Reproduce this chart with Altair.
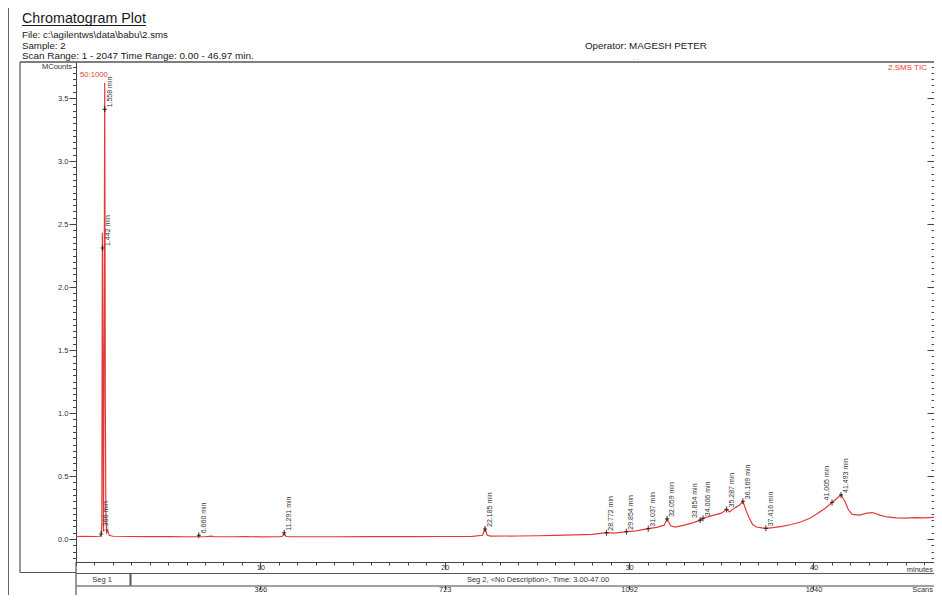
import altair as alt
import pandas as pd

# ---------------- data ----------------
time_min = [0.0, 0.5, 1.0, 1.30, 1.366, 1.40, 1.43, 1.46, 1.49, 1.53,
            1.558, 1.59, 1.62, 1.66, 1.72, 1.80, 2.0, 3.0, 4.0, 5.0,
            6.0, 6.60, 6.66, 6.72, 7.0, 7.35, 7.5, 8.5, 9.2, 10.0,
            11.0, 11.2, 11.291, 11.38, 11.6, 12.5, 14.0, 16.0, 18.0, 20.0,
            21.5, 22.05, 22.185, 22.3, 22.5, 24.0, 25.0, 26.0, 27.0, 28.0,
            28.772, 29.2, 29.854, 30.4, 31.037, 31.5, 31.9, 32.059, 32.25, 32.5,
            33.0, 33.5, 33.854, 34.006, 34.5, 35.0, 35.287, 35.45, 35.7, 36.0,
            36.169, 36.35, 36.5, 36.7, 36.9, 37.2, 37.416, 37.8, 38.3, 38.8,
            39.3, 39.8, 40.2, 40.6, 41.005, 41.25, 41.493, 41.7, 41.9, 42.1,
            42.5, 42.9, 43.2, 43.6, 44.0, 44.5, 45.0, 45.5, 46.0, 46.5, 46.97]
mcounts = [0.020, 0.021, 0.020, 0.022, 0.035, 0.12, 2.43, 1.20, 0.06, 1.90,
           3.62, 1.10, 0.20, 0.05, 0.065, 0.030, 0.022, 0.020, 0.019, 0.019,
           0.018, 0.019, 0.032, 0.019, 0.018, 0.023, 0.018, 0.018, 0.020, 0.017,
           0.018, 0.022, 0.050, 0.022, 0.018, 0.018, 0.018, 0.019, 0.019, 0.020,
           0.021, 0.030, 0.085, 0.030, 0.023, 0.024, 0.026, 0.029, 0.033, 0.037,
           0.050, 0.046, 0.058, 0.064, 0.082, 0.092, 0.110, 0.160, 0.105, 0.095,
           0.110, 0.130, 0.150, 0.165, 0.185, 0.205, 0.235, 0.215, 0.245, 0.270,
           0.300, 0.225, 0.170, 0.115, 0.095, 0.088, 0.085, 0.090, 0.100, 0.115,
           0.135, 0.165, 0.200, 0.240, 0.290, 0.320, 0.350, 0.300, 0.230, 0.195,
           0.190, 0.205, 0.210, 0.190, 0.175, 0.168, 0.165, 0.170, 0.168, 0.172, 0.170]

peak_time = [1.366, 1.442, 1.558, 6.660, 11.291, 22.185, 28.772, 29.854, 31.037,
             32.059, 33.854, 34.006, 35.287, 36.169, 37.416, 41.005, 41.493]
peak_mcounts = [0.040, 2.31, 3.41, 0.030, 0.050, 0.080, 0.050, 0.058, 0.082,
                0.160, 0.150, 0.165, 0.235, 0.300, 0.085, 0.290, 0.350]
left_labelled_peaks = [33.854, 41.005]

y_major = [0.0, 0.5, 1.0, 1.5, 2.0, 2.5, 3.0, 3.5]
y_minor = [round(-0.15 + 0.05 * i, 2) for i in range(79)]
x_major = [10, 20, 30, 40]
x_minor = list(range(0, 47))
scan_at_minutes = [10, 20, 30, 40]
scan_labels = ["366", "723", "1092", "1640"]

# ---------------- styling / layout ----------------
FONT = "Liberation Sans"
RED = "#e23b36"
INK = "#333333"
LINE = "#555555"
PX_PER_MIN = 866 / 46.97          # scale of the reference
W, H = 858, 500                   # plot area (page must not overflow 942 px)
X_END = W / PX_PER_MIN

trace = pd.DataFrame({"t": time_min, "v": mcounts})
peaks = pd.DataFrame({"t": peak_time, "v": peak_mcounts})

xs = alt.Scale(domain=[0, X_END], nice=False, zero=False)
ys = alt.Scale(domain=[-0.1825, 3.786], nice=False, zero=False)

common = dict(grid=False, title=None, tickColor="#444", domainColor="#444",
              labelFont=FONT, labelColor=INK, labelFontSize=7.5)

x_major_axis = alt.Axis(orient="bottom", values=x_major, tickSize=7, labelPadding=-6,
                        format="d", labelFlush=False, **common)
x_minor_axis = alt.Axis(orient="bottom", values=x_minor, tickSize=3, labels=False,
                        domain=False, **common)
y_major_axis = alt.Axis(orient="left", values=y_major, tickSize=7, labelPadding=1,
                        format=".1f", **common)
y_minor_axis = alt.Axis(orient="left", values=y_minor, tickSize=3.5, labels=False,
                        domain=False, **common)
y_right_minor = alt.Axis(orient="right", values=y_minor, tickSize=3, offset=-3,
                         labels=False, domain=False, **common)
y_right_major = alt.Axis(orient="right", values=y_major, tickSize=7, offset=-7,
                         labels=False, domain=False, **common)
scan_expr = " : ".join(f"datum.value == {m} ? '{s}'" for m, s in zip(scan_at_minutes, scan_labels)) + " : ''"
scans_axis = alt.Axis(orient="bottom", offset=23.5, values=scan_at_minutes, labelExpr=scan_expr,
                      tickSize=4, labelPadding=-4.5, labelFlush=False, **common)

line = alt.Chart(trace).mark_line(color=RED, strokeWidth=1.2, clip=True).encode(
    x=alt.X("t:Q", scale=xs, axis=x_major_axis),
    y=alt.Y("v:Q", scale=ys, axis=y_major_axis),
)


def dummy(xaxis, yaxis):
    return alt.Chart(peaks).mark_point(opacity=0).encode(
        x=alt.X("t:Q", scale=xs, axis=xaxis),
        y=alt.Y("v:Q", scale=ys, axis=yaxis),
    )


minor_layer = dummy(x_minor_axis, y_minor_axis)
right_minor_layer = dummy(None, y_right_minor)
right_major_layer = dummy(scans_axis, y_right_major)

markers = alt.Chart(peaks).mark_point(
    shape="M-0.7,0H0.7M0,-1V1", size=36, filled=False, stroke="black", strokeWidth=1.1
).encode(
    x=alt.X("t:Q", scale=xs, axis=None),
    y=alt.Y("v:Q", scale=ys, axis=None),
)

label_base = alt.Chart(peaks).transform_calculate(
    label="format(datum.t, '.3f') + ' min'"
)
labels_right = label_base.transform_filter(
    ~alt.FieldOneOfPredicate(field="t", oneOf=left_labelled_peaks)
).mark_text(angle=270, align="left", baseline="top", dx=2, dy=1,
            fontSize=7, font=FONT, color=INK).encode(
    x=alt.X("t:Q", scale=xs, axis=None),
    y=alt.Y("v:Q", scale=ys, axis=None),
    text="label:N",
)
labels_left = label_base.transform_filter(
    alt.FieldOneOfPredicate(field="t", oneOf=left_labelled_peaks)
).mark_text(angle=270, align="left", baseline="bottom", dx=2, dy=-2,
            fontSize=7, font=FONT, color=INK).encode(
    x=alt.X("t:Q", scale=xs, axis=None),
    y=alt.Y("v:Q", scale=ys, axis=None),
    text="label:N",
)


def txt(s, x, y, size, color="#1a1a1a", align="left", baseline="alphabetic"):
    return alt.Chart().mark_text(text=s, align=align, baseline=baseline, fontSize=size,
                                 font=FONT, color=color).encode(
        x=alt.value(x), y=alt.value(y))


def rule(x1, x2, y1, y2, color=LINE, width=1.2):
    return alt.Chart().mark_rule(color=color, strokeWidth=width).encode(
        x=alt.value(x1), x2=alt.value(x2), y=alt.value(y1), y2=alt.value(y2))


decor = [
    # header
    txt("Chromatogram Plot", -54, -39, 14.3),
    rule(-54, 70, -36.5, -36.5, color="#1a1a1a", width=1),
    txt(r"File: c:\agilentws\data\babu\2.sms", -54, -24, 9.7),
    txt("Sample: 2", -54, -13.5, 9.7),
    txt("Scan Range: 1 - 2047 Time Range: 0.00 - 46.97 min.", -54, -3, 9.9),
    txt("Operator: MAGESH PETER", 509, -13, 9.8),
    txt("- -", 560, -1, 6, color="#aaaaaa", align="center"),
    # inside plot texts
    txt("MCounts", -4, 5, 7.5, color=INK, align="right", baseline="middle"),
    txt("50:1000", 4, 13, 7.7, color=RED, baseline="middle"),
    txt("2.SMS TIC", 851, 6, 8, color=RED, align="right", baseline="middle"),
    # frame
    rule(-56, W, 0, 0, width=1.6),
    rule(-56, -56, 0, 510.5),
    rule(-56, 0, 510.5, 510.5),
    rule(-67.5, -67.5, -60, 533, color="#666666", width=1),
    # segment box
    rule(0, W, 511.5, 511.5),
    rule(0, 0, 500, 533),
    rule(54.5, 54.5, 511.5, 523.5, color="#555555", width=2),
    txt("Seg 1", 26, 517.8, 7.5, color=INK, align="center", baseline="middle"),
    txt("Seg 2, <No Description>, Time: 3.00-47.00", 462, 517.8, 7.5, color=INK,
        align="center", baseline="middle"),
    txt("minutes", W - 1, 509.5, 7.5, color=INK, align="right"),
    txt("Scans", W - 1, 527.5, 7.5, color=INK, align="right", baseline="middle"),
]

chart = alt.layer(
    line, minor_layer, right_minor_layer, right_major_layer,
    markers, labels_right, labels_left, *decor
).resolve_axis(
    x="independent", y="independent"
).properties(
    width=W, height=H, autosize="none",
    padding={"left": 68, "top": 54, "right": 0, "bottom": 33},
).configure_view(stroke=None)

chart.save("out.html", embed_options={"renderer": "svg", "actions": False})
